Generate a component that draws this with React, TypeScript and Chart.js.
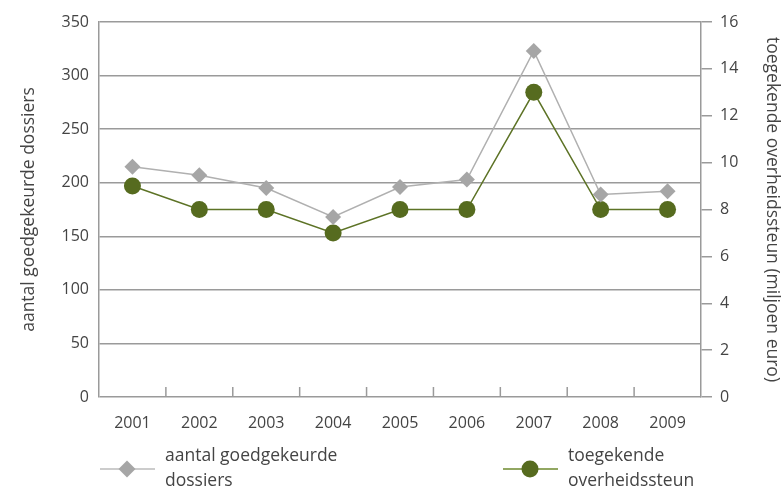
import React, { useEffect, useRef } from "react";
import { Chart, registerables } from "chart.js";

Chart.register(...registerables);

const years = ["2001", "2002", "2003", "2004", "2005", "2006", "2007", "2008", "2009"];
const dossiers = [215, 207, 195, 168, 196, 203, 323, 189, 192];
const steun = [9, 8, 8, 7, 8, 8, 13, 8, 8];
const leftTitle = "aantal goedgekeurde dossiers";
const rightTitle = "toegekende overheidssteun (miljoen euro)";
const legendDossiers = ["aantal goedgekeurde", "dossiers"];
const legendSteun = ["toegekende", "overheidssteun"];

const GRAY = "#a6a6a6";
const GREEN = "#566b1f";
const AXIS = "#9a9a9a";
const TEXT = "#444444";
const FONT = "'Open Sans', sans-serif";

const betweenTicks = {
  id: "betweenTicks",
  beforeDatasetsDraw(chart: any) {
    const x = chart.scales.x;
    const area = chart.chartArea;
    const ctx = chart.ctx;
    ctx.save();
    ctx.strokeStyle = AXIS;
    ctx.lineWidth = 1.5;
    for (let i = 1; i < years.length; i++) {
      const px = (x.getPixelForTick(i - 1) + x.getPixelForTick(i)) / 2;
      ctx.beginPath();
      ctx.moveTo(px, area.bottom);
      ctx.lineTo(px, area.bottom - 10);
      ctx.stroke();
    }
    ctx.restore();
  },
};

function App() {
  const ref = useRef<HTMLCanvasElement>(null);
  useEffect(() => {
    document.body.style.margin = "0";
    const chart = new Chart(ref.current!, {
      type: "line",
      data: {
        labels: years,
        datasets: [
          {
            label: "aantal goedgekeurde dossiers",
            data: dossiers,
            yAxisID: "y",
            borderColor: "#b0b0b0",
            borderWidth: 1.5,
            pointStyle: "rectRot",
            pointRadius: 8,
            pointBackgroundColor: GRAY,
            pointBorderColor: GRAY,
            pointBorderWidth: 0,
          },
          {
            label: "toegekende overheidssteun",
            data: steun,
            yAxisID: "y2",
            borderColor: "#5d7326",
            borderWidth: 1.5,
            pointStyle: "circle",
            pointRadius: 8.5,
            pointBackgroundColor: GREEN,
            pointBorderColor: GREEN,
            pointBorderWidth: 0,
          },
        ],
      },
      options: {
        animation: false,
        responsive: false,
        layout: { padding: { top: 22, left: 0, right: 0, bottom: 0 } },
        plugins: { legend: { display: false }, tooltip: { enabled: false } },
        scales: {
          x: {
            offset: true,
            grid: { display: false },
            border: { display: false },
            ticks: { color: TEXT, font: { family: FONT, size: 16 }, padding: 9 },
            afterFit: (s: any) => {
              s.height = 90;
            },
          },
          y: {
            position: "left",
            min: 0,
            max: 350,
            ticks: { stepSize: 50, color: TEXT, font: { family: FONT, size: 16 }, padding: 10 },
            grid: { color: AXIS, lineWidth: 1.5, drawTicks: false },
            border: { display: true, color: AXIS, width: 1.5 },
            title: {
              display: true,
              text: leftTitle,
              color: TEXT,
              font: { family: FONT, size: 17.5 },
              padding: { top: 19, bottom: 0 },
            },
            afterFit: (s: any) => {
              s.width = 99;
            },
          },
          y2: {
            position: "right",
            min: 0,
            max: 16,
            ticks: { stepSize: 2, color: TEXT, font: { family: FONT, size: 16 }, padding: 8 },
            grid: { drawOnChartArea: false, drawTicks: true, tickLength: 11, color: AXIS, lineWidth: 1.5 },
            border: { display: true, color: AXIS, width: 1.5 },
            title: {
              display: true,
              text: rightTitle,
              color: TEXT,
              font: { family: FONT, size: 17.5 },
              padding: { top: 0, bottom: 0 },
            },
            afterFit: (s: any) => {
              s.width = 81;
            },
          },
        },
      },
      plugins: [betweenTicks],
    });
    return () => chart.destroy();
  }, []);

  const textStyle: React.CSSProperties = {
    position: "absolute",
    fontFamily: FONT,
    fontSize: 17.5,
    color: TEXT,
    lineHeight: "25px",
    whiteSpace: "nowrap",
  };

  return (
    <div style={{ position: "relative", width: 782, height: 487 }}>
      <canvas ref={ref} width={782} height={487} style={{ display: "block" }} />
      <svg width={782} height={487} style={{ position: "absolute", left: 0, top: 0, pointerEvents: "none" }}>
        <line x1={100} y1={469} x2={155} y2={469} stroke="#bbbbbb" strokeWidth={1.5} />
        <rect x={121} y={463} width={12} height={12} fill={GRAY} transform="rotate(45 127 469)" />
        <line x1={503} y1={469} x2={558} y2={469} stroke="#6e8a2e" strokeWidth={1.5} />
        <circle cx={530} cy={469} r={8.5} fill={GREEN} />
      </svg>
      <div style={{ ...textStyle, left: 165, top: 442 }}>
        {legendDossiers[0]}
        <br />
        {legendDossiers[1]}
      </div>
      <div style={{ ...textStyle, left: 568, top: 442 }}>
        {legendSteun[0]}
        <br />
        {legendSteun[1]}
      </div>
    </div>
  );
}

export default App;
